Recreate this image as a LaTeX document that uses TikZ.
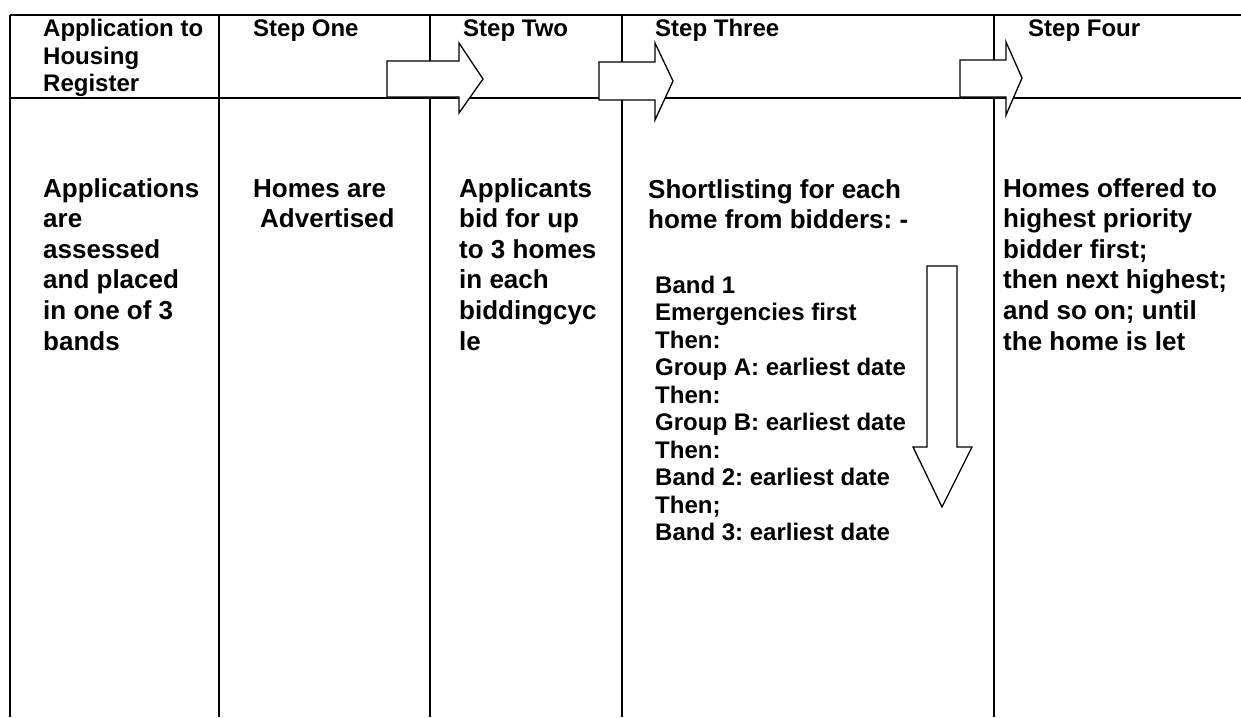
\documentclass[tikz,border=0pt]{standalone}
\usepackage{fontspec}
\setmainfont{Liberation Sans}
\frenchspacing
\begin{document}
\begin{tikzpicture}[x=1pt,y=-1pt,
  grid/.style={line width=2pt,black},
  blockarrow/.style={draw=black,fill=white,line width=1.3pt,line join=miter},
  headtxt/.style={font=\fontsize{24}{27.5}\selectfont\bfseries,anchor=base west,inner sep=0pt,align=left},
  bodytxt/.style={font=\fontsize{26}{30.6}\selectfont\bfseries,anchor=base west,inner sep=0pt,align=left},
  bandtxt/.style={font=\fontsize{24}{27.5}\selectfont\bfseries,anchor=base west,inner sep=0pt,align=left}]
\useasboundingbox (0,0) rectangle (1241,717);

% table rules
\draw[grid] (10,15) -- (1241,15);
\draw[grid] (10,98) -- (1241,98);
\foreach \cx in {10,219,430,622,994}
  \draw[grid] (\cx,15) -- (\cx,717);

% header row (multi-line nodes are placed by the baseline of their last line)
\node[headtxt] (h0) at (43,92) {Application to\\Housing\\Register};
\node[headtxt] (h1) at (253,37) {Step One};
\node[headtxt] (h2) at (463,37) {Step Two};
\node[headtxt] (h3) at (655,37) {Step Three};
\node[headtxt] (h4) at (1028,37) {Step Four};

% block arrows between steps
\draw[blockarrow] (387,61) -- (459,61) -- (459,43) -- (483,79) -- (459,113) -- (459,97) -- (387,97) -- cycle;
\draw[blockarrow] (599,62) -- (655,62) -- (655,43) -- (673,81) -- (655,120) -- (655,100) -- (599,100) -- cycle;
\draw[blockarrow] (960,60) -- (1006,60) -- (1006,42) -- (1022,78) -- (1006,115) -- (1006,97) -- (960,97) -- cycle;

% column contents
\node[bodytxt] (c0) at (43,350) {Applications\\are\\assessed\\and placed\\in one of 3\\bands};
\node[bodytxt] (c1) at (253,227.6) {Homes are\\\hspace*{7pt}Advertised};
\node[bodytxt] (c2) at (459,350) {Applicants\\bid for up\\to 3 homes\\in each\\biddingcyc\\le};
\node[bodytxt] (c3) at (648,228.6) {Shortlisting for each\\home from bidders: -};
\node[bandtxt] (c3b) at (655,540.5) {Band 1\\Emergencies first\\Then:\\Group A: earliest date\\Then:\\Group B: earliest date\\Then:\\Band 2: earliest date\\Then;\\Band 3: earliest date};
\node[bodytxt] (c4) at (1003,350) {Homes offered to\\highest priority\\bidder first;\\then next highest;\\and so on; until\\the home is let};

% downward priority arrow
\draw[blockarrow] (927,266) -- (957,266) -- (957,447) -- (972,447) -- (942,507) -- (913,447) -- (927,447) -- cycle;
\end{tikzpicture}
\end{document}
